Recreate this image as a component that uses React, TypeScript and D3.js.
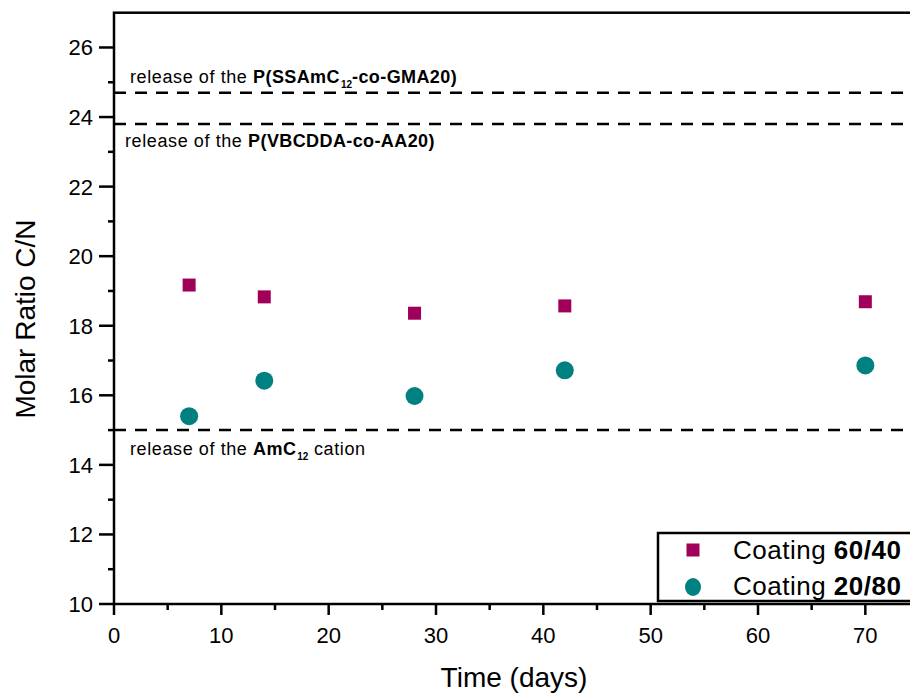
import React from "react";
import * as d3 from "d3";

const days = [7, 14, 28, 42, 70];
const coating6040 = [19.17, 18.83, 18.36, 18.57, 18.69];
const coating2080 = [15.4, 16.42, 15.98, 16.72, 16.86];
const xTicks = [0, 10, 20, 30, 40, 50, 60, 70];
const xMinorTicks = [5, 15, 25, 35, 45, 55, 65];
const yTicks = [10, 12, 14, 16, 18, 20, 22, 24, 26];
const yMinorTicks = [11, 13, 15, 17, 19, 21, 23, 25];
const releaseLevels = [24.7, 23.8, 15.0];

const W = 910;
const H = 693;
const M = { left: 114, top: 12.7, right: 919, bottom: 604 };
const FONT = "'Liberation Sans', Arial, sans-serif";
const MAGENTA = "#A0005A";
const TEAL = "#008080";
const AXW = 2.5;

const x = d3.scaleLinear().domain([0, 75]).range([M.left, M.right]);
const y = d3.scaleLinear().domain([10, 27]).range([M.bottom, M.top]);

function ReleaseLabel({
  px,
  py,
  bold,
  sub,
  boldAfter,
  plainAfter,
}: {
  px: number;
  py: number;
  bold: string;
  sub?: string;
  boldAfter?: string;
  plainAfter?: string;
}) {
  return (
    <text x={px} y={py} fontFamily={FONT} fontSize={18} fill="#000">
      <tspan letterSpacing={0.6}>release of the </tspan>
      <tspan fontWeight="bold" letterSpacing={0.4}>{bold}</tspan>
      {sub && (
        <tspan fontSize={10} dy={5} dx={1} fontWeight="bold">
          {sub}
        </tspan>
      )}
      {boldAfter && (
        <tspan fontWeight="bold" letterSpacing={0.4} dy={sub ? -5 : 0}>
          {boldAfter}
        </tspan>
      )}
      {plainAfter && (
        <tspan letterSpacing={0.6} dy={sub && !boldAfter ? -5 : 0}>
          {plainAfter}
        </tspan>
      )}
    </text>
  );
}

export default function App() {
  const sq = 13;
  return (
    <svg
      width={W}
      height={H}
      style={{ position: "absolute", left: 0, top: 0, background: "#fff" }}
    >
      {/* frame */}
      <rect
        x={M.left}
        y={M.top}
        width={M.right - M.left}
        height={M.bottom - M.top}
        fill="none"
        stroke="#000"
        strokeWidth={AXW}
      />

      {/* x axis ticks */}
      {xTicks.map((t) => (
        <g key={"xt" + t}>
          <line x1={x(t)} x2={x(t)} y1={M.bottom} y2={M.bottom + 11} stroke="#000" strokeWidth={AXW} />
          <text
            x={x(t)}
            y={643}
            textAnchor="middle"
            fontFamily={FONT}
            fontSize={22}
            fill="#000"
          >
            {t}
          </text>
        </g>
      ))}
      {xMinorTicks.map((t) => (
        <line key={"xm" + t} x1={x(t)} x2={x(t)} y1={M.bottom} y2={M.bottom + 6} stroke="#000" strokeWidth={AXW} />
      ))}

      {/* y axis ticks */}
      {yTicks.map((t) => (
        <g key={"yt" + t}>
          <line x1={M.left - 15} x2={M.left} y1={y(t)} y2={y(t)} stroke="#000" strokeWidth={AXW} />
          <text
            x={93}
            y={y(t) + 8}
            textAnchor="end"
            fontFamily={FONT}
            fontSize={22}
            fill="#000"
          >
            {t}
          </text>
        </g>
      ))}
      {yMinorTicks.map((t) => (
        <line key={"ym" + t} x1={M.left - 6} x2={M.left} y1={y(t)} y2={y(t)} stroke="#000" strokeWidth={AXW} />
      ))}

      {/* axis titles */}
      <text
        x={514}
        y={687}
        textAnchor="middle"
        fontFamily={FONT}
        fontSize={28}
        fill="#000"
      >
        Time (days)
      </text>
      <text
        transform={`translate(35,319) rotate(-90)`}
        textAnchor="middle"
        fontFamily={FONT}
        fontSize={28}
        fill="#000"
      >
        Molar Ratio C/N
      </text>

      {/* release reference levels */}
      {releaseLevels.map((v) => (
        <line
          key={"ref" + v}
          x1={M.left}
          x2={M.right}
          y1={y(v)}
          y2={y(v)}
          stroke="#000"
          strokeWidth={2.5}
          strokeDasharray="12,9"
        />
      ))}

      <ReleaseLabel
        px={130}
        py={y(releaseLevels[0]) - 10}
        bold="P(SSAmC"
        sub="12"
        boldAfter="-co-GMA20)"
      />
      <ReleaseLabel
        px={125}
        py={y(releaseLevels[1]) + 23}
        bold="P(VBCDDA-co-AA20)"
      />
      <ReleaseLabel
        px={130}
        py={y(releaseLevels[2]) + 25}
        bold="AmC"
        sub="12"
        plainAfter=" cation"
      />

      {/* series */}
      {days.map((d, i) => (
        <rect
          key={"s1" + d}
          x={x(d) - sq / 2}
          y={y(coating6040[i]) - sq / 2}
          width={sq}
          height={sq}
          fill={MAGENTA}
        />
      ))}
      {days.map((d, i) => (
        <circle key={"s2" + d} cx={x(d)} cy={y(coating2080[i])} r={9} fill={TEAL} />
      ))}

      {/* legend */}
      <g>
        <rect x={658} y={533} width={300} height={68} fill="#fff" stroke="#000" strokeWidth={AXW} />
        <rect x={693 - 6.5} y={550 - 6.5} width={13} height={13} fill={MAGENTA} />
        <ellipse cx={693} cy={587} rx={8} ry={9} fill={TEAL} />
        <text x={733} y={559} fontFamily={FONT} fontSize={26} letterSpacing={0.5} fill="#000">
          Coating <tspan fontWeight="bold">60/40</tspan>
        </text>
        <text x={733} y={595} fontFamily={FONT} fontSize={26} letterSpacing={0.5} fill="#000">
          Coating <tspan fontWeight="bold">20/80</tspan>
        </text>
      </g>
    </svg>
  );
}
